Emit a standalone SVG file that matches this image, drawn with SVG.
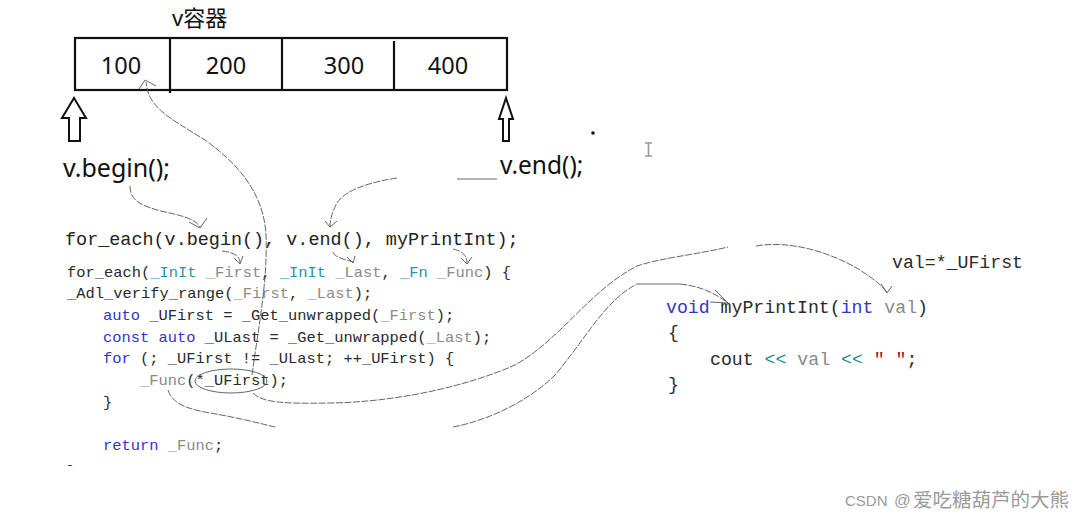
<svg xmlns="http://www.w3.org/2000/svg" width="1090" height="521" viewBox="0 0 1090 521" xml:space="preserve">
<style>
.lbl{font-family:"Noto Sans","Noto Sans CJK SC",sans-serif;fill:#111}
.num{font-family:"Noto Sans",sans-serif;font-size:23.5px;fill:#111;text-anchor:middle}
.code{font-family:"Liberation Mono",monospace;fill:#2a2a2a}
.c1{font-size:18.45px;fill:#222}
.c2{font-size:15.42px}
.c3{font-size:18.2px}
.kw{fill:#3434c8}
.ty{fill:#2b91af}
.pm{fill:#8a8a8a}
.op{fill:#1a8a8a}
.st{fill:#a31515}
.conn{fill:none;stroke:#555;stroke-width:0.9}
.dash{stroke-dasharray:7 1.5}
.cell{fill:#fff;stroke:#111;stroke-width:2.2}
.barrow{fill:#fff;stroke:#111;stroke-width:2}
</style>
<defs>
<clipPath id="cut"><rect x="0" y="0" width="1090" height="466"/></clipPath>
</defs>
<rect width="1090" height="521" fill="#fff"/>

<g id="container">
<text class="lbl" x="172" y="26" font-size="22">v容器</text>
<rect class="cell" x="75" y="38" width="432" height="52"/>
<line x1="170" y1="38" x2="170" y2="93" stroke="#111" stroke-width="2.2"/>
<line x1="282" y1="38" x2="282" y2="90" stroke="#111" stroke-width="2.2"/>
<line x1="394" y1="41" x2="394" y2="90" stroke="#111" stroke-width="2.2"/>
<text class="num" x="121" y="74">100</text>
<text class="num" x="226" y="74">200</text>
<text class="num" x="344" y="74">300</text>
<text class="num" x="448" y="74">400</text>
</g>

<g id="begin-arrow">
<polygon class="barrow" points="74,98 86,118 80,118 80,141 69,141 69,118 62,118"/>
<text class="lbl" x="63" y="177" font-size="25">v.begin();</text>
</g>

<g id="end-arrow">
<polygon class="barrow" points="506,98 513,119 509,119 509,141 503,141 503,119 499,119"/>
<text class="lbl" x="500" y="174" font-size="24.5">v.end();</text>
</g>

<g id="marks">
<circle cx="593" cy="133" r="1.8" fill="#111"/>
<path d="M645,143 H652 M648.5,143 V156 M645,156 H652" stroke="#999" stroke-width="1.6" fill="none"/>
</g>

<g id="call-line">
<text class="code c1" x="65" y="245">for_each(v.begin(), v.end(), myPrintInt);</text>
</g>

<g id="for-each-impl" class="code c2">
<text x="67" y="277">for_each(<tspan class="ty">_InIt</tspan> <tspan class="pm">_First</tspan>, <tspan class="ty">_InIt</tspan> <tspan class="pm">_Last</tspan>, <tspan class="ty">_Fn</tspan> <tspan class="pm">_Func</tspan>) {</text>
<text x="67" y="298">_Adl_verify_range(<tspan class="pm">_First</tspan>, <tspan class="pm">_Last</tspan>);</text>
<text x="103" y="320"><tspan class="kw">auto</tspan> _UFirst      = _Get_unwrapped(<tspan class="pm">_First</tspan>);</text>
<text x="103" y="342"><tspan class="kw">const</tspan> <tspan class="kw">auto</tspan> _ULast = _Get_unwrapped(<tspan class="pm">_Last</tspan>);</text>
<text x="103" y="363"><tspan class="kw">for</tspan> (; _UFirst != _ULast; ++_UFirst) {</text>
<text x="140" y="385"><tspan class="pm">_Func</tspan>(*_UFirst);</text>
<text x="103" y="407">}</text>
<text x="103" y="450"><tspan class="kw">return</tspan> <tspan class="pm">_Func</tspan>;</text>
<text x="67" y="476" clip-path="url(#cut)">}</text>
</g>

<g id="my-print-int" class="code c3">
<text x="892" y="268">val=*_UFirst</text>
<text x="666" y="313"><tspan class="kw">void</tspan> myPrintInt(<tspan class="kw">int</tspan> <tspan class="pm">val</tspan>)</text>
<text x="668" y="338">{</text>
<text x="710" y="365">cout <tspan class="op">&lt;&lt;</tspan> <tspan class="pm">val</tspan> <tspan class="op">&lt;&lt;</tspan> <tspan class="st">" "</tspan>;</text>
<text x="668" y="390">}</text>
</g>

<g id="connectors">
<path class="conn dash" d="M130,186 C130,200 140,206 165,212 C185,216 196,220 200,227"/>
<path class="conn" d="M189,222 L200,228 L207,218"/>
<path class="conn" d="M457,179 L497,179"/>
<path class="conn dash" d="M397,178 C370,182 345,190 337,203 C332,212 330,220 330,227"/>
<path class="conn" d="M325,221 L330,227 L337,221"/>
<path class="conn dash" d="M222,251 C232,252 240,255 240,263"/>
<path class="conn" d="M234,258 L240,264 L243,256"/>
<path class="conn dash" d="M333,252 C335,258 345,259 353,262"/>
<path class="conn" d="M347,257 L353,263 L355,256"/>
<path class="conn dash" d="M453,249 C462,251 467,255 467,263"/>
<path class="conn" d="M461,258 L467,264 L472,257"/>
<ellipse class="conn" cx="231" cy="381" rx="36" ry="12"/>
<path class="conn dash" d="M252,375 C258,330 268,280 266,235 C264,195 240,165 205,140 C170,118 148,108 146,82"/>
<path class="conn" d="M139,89 L145,80 L156,86"/>
<path class="conn dash" d="M253,393 C262,402 280,404 330,403 C400,402 470,385 515,365 C560,340 590,290 637,266 C660,258 700,254 728,247"/>
<path class="conn dash" d="M756,246 C790,240 830,252 860,270 C875,280 884,287 887,293"/>
<path class="conn" d="M881,284 L887,293 L892,286"/>
<path class="conn dash" d="M168,390 C172,402 182,408 210,413 C240,418 262,424 275,427"/>
<path class="conn dash" d="M453,427 C490,420 530,400 555,375 C585,340 605,300 637,284"/>
<path class="conn" d="M637,284 L680,284"/>
<path class="conn dash" d="M680,284 C700,286 715,293 728,303"/>
<path class="conn" d="M715,290 L728,303 L710,302"/>
</g>

<g id="watermark" font-family="Liberation Sans,Noto Sans CJK SC,sans-serif" fill="#9a9a9a">
<text x="845" y="506" font-size="15">CSDN</text>
<text x="894" y="506" font-size="16.5">@</text>
<text x="913" y="507" font-family="Noto Sans CJK SC,sans-serif" font-size="19.5">爱吃糖葫芦的大熊</text>
</g>
</svg>
